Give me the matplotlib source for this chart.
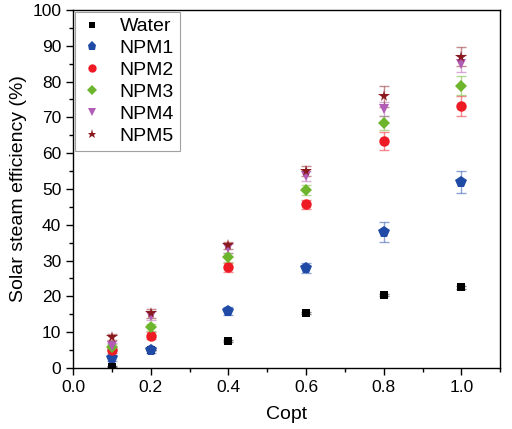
import numpy as np
import matplotlib
matplotlib.use("Agg")
import matplotlib.pyplot as plt
from matplotlib.ticker import MultipleLocator

plt.rcParams['font.family'] = ['Liberation Sans', 'DejaVu Sans']

copt = [0.1, 0.2, 0.4, 0.6, 0.8, 1.0]

series_names = ["Water", "NPM1", "NPM2", "NPM3", "NPM4", "NPM5"]
water = [0.4, 5.0, 7.6, 15.4, 20.5, 22.5]
npm1 = [2.7, 5.0, 15.9, 27.9, 38.0, 52.0]
npm2 = [5.1, 9.0, 28.1, 45.7, 63.4, 73.2]
npm3 = [5.8, 11.4, 30.9, 49.6, 68.5, 78.9]
npm4 = [6.2, 14.6, 33.4, 53.6, 72.3, 85.0]
npm5 = [8.7, 15.3, 34.3, 55.0, 75.9, 87.0]

water_err = [0.1, 0.1, 0.2, 0.2, 0.3, 0.3]
npm1_err = [0.8, 0.8, 1.0, 1.5, 2.7, 3.0]
npm2_err = [0.8, 1.0, 1.3, 1.3, 2.6, 2.9]
npm3_err = [0.9, 1.0, 1.3, 1.4, 2.0, 2.6]
npm4_err = [0.9, 1.2, 1.2, 1.5, 2.0, 2.4]
npm5_err = [0.9, 1.2, 1.0, 1.5, 3.0, 2.6]

values = [water, npm1, npm2, npm3, npm4, npm5]
errors = [water_err, npm1_err, npm2_err, npm3_err, npm4_err, npm5_err]
colors = ["black", "#1f4aa5", "#ee1b24", "#6cb52d", "#b25db5", "#8b1a1f"]
markers = ["s", "p", "o", "D", "v", "*"]
sizes = [5.5, 8.5, 7.5, 6, 7.5, 8.5]

fig = plt.figure(figsize=(5.12, 4.29), dpi=100)
ax = fig.add_axes([0.1426, 0.1422, 0.8344, 0.8345])

for name, y, e, c, m, s in zip(series_names, values, errors, colors, markers, sizes):
    ax.errorbar(copt, y, yerr=e, fmt='none', ecolor=c, alpha=0.5,
                elinewidth=1.0, capsize=3.5, capthick=1.0, zorder=2)
    ax.plot(copt, y, linestyle='none', marker=m, markersize=s, color=c,
            markeredgewidth=0, label=name, zorder=3)

ax.set_xlim(0, 1.1)
ax.set_ylim(0, 100)
ax.xaxis.set_major_locator(MultipleLocator(0.2))
ax.xaxis.set_minor_locator(MultipleLocator(0.1))
ax.yaxis.set_major_locator(MultipleLocator(10))
ax.yaxis.set_minor_locator(MultipleLocator(5))
ax.tick_params(which='major', direction='out', length=5, width=1, labelsize=12.5,
               top=False, right=False)
ax.tick_params(which='minor', direction='out', length=3, width=1, top=False, right=False)
ax.xaxis.set_major_formatter(matplotlib.ticker.FormatStrFormatter('%.1f'))
for sp in ax.spines.values():
    sp.set_linewidth(1.0)

ax.set_xlabel("Copt", fontsize=14, labelpad=8)
ax.set_ylabel("Solar steam efficiency (%)", fontsize=14, labelpad=4)

leg = ax.legend(loc='upper left', fontsize=14, frameon=True, fancybox=False,
                borderaxespad=0.1, handletextpad=0.8, labelspacing=0.22,
                borderpad=0.3, handlelength=1.2, markerscale=0.8)
leg.get_frame().set_edgecolor('#888888')
leg.get_frame().set_linewidth(0.8)

fig.savefig("out.png", dpi=100)
